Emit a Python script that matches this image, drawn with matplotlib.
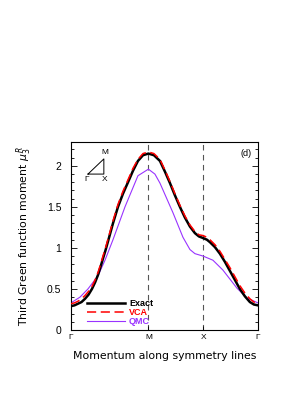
import numpy as np
import matplotlib
matplotlib.use("Agg")
import matplotlib.pyplot as plt
from matplotlib.ticker import MultipleLocator

# Path coordinate: Gamma=0, M=sqrt(2), X=sqrt(2)+1, Gamma=sqrt(2)+2
sym_pos = [0.0, 1.414, 2.414, 3.414]
sym_labels = ["Γ", "M", "X", "Γ"]

k_exact = [0.0, 0.064, 0.128, 0.192, 0.256, 0.320, 0.383, 0.440, 0.493, 0.540, 0.584,
           0.630, 0.676, 0.767, 0.858, 0.949,
           1.041, 1.132, 1.223, 1.315, 1.414, 1.515, 1.625, 1.716, 1.808, 1.899,
           1.990, 2.081, 2.173, 2.264, 2.337, 2.414, 2.483, 2.538, 2.629, 2.720,
           2.812, 2.903, 2.994, 3.085, 3.177, 3.268, 3.341, 3.414]
exact = [0.29, 0.30, 0.32, 0.34, 0.38, 0.43, 0.50, 0.58, 0.67, 0.77, 0.87,
         0.97, 1.08, 1.30, 1.50, 1.66,
         1.80, 1.94, 2.06, 2.13, 2.15, 2.13, 2.06, 1.93, 1.79, 1.64,
         1.50, 1.37, 1.26, 1.18, 1.14, 1.12, 1.10, 1.07, 1.01, 0.93,
         0.83, 0.72, 0.61, 0.50, 0.41, 0.34, 0.31, 0.30]
vca = [0.32, 0.33, 0.35, 0.38, 0.42, 0.47, 0.53, 0.61, 0.70, 0.80, 0.90,
       1.00, 1.11, 1.33, 1.53, 1.69,
       1.83, 1.97, 2.08, 2.15, 2.17, 2.15, 2.08, 1.95, 1.81, 1.66,
       1.52, 1.39, 1.28, 1.20, 1.16, 1.15, 1.13, 1.10, 1.04, 0.96,
       0.86, 0.76, 0.65, 0.54, 0.45, 0.38, 0.34, 0.32]

k_qmc = [0.0, 0.164, 0.310, 0.493, 0.621, 0.767, 0.986, 1.223, 1.414, 1.533,
         1.625, 1.862, 2.045, 2.173, 2.264, 2.414, 2.593, 2.775, 3.031, 3.213, 3.414]
qmc = [0.33, 0.40, 0.50, 0.66, 0.85, 1.10, 1.50, 1.88, 1.96, 1.90,
       1.79, 1.43, 1.13, 0.98, 0.93, 0.90, 0.85, 0.73, 0.51, 0.39, 0.33]

plt.rcParams['font.family'] = ['Liberation Sans', 'DejaVu Sans']

fig = plt.figure(figsize=(2.81, 3.98), dpi=100)
ax = fig.add_axes([0.2527, 0.171, 0.665, 0.472])

for p in sym_pos[1:3]:
    ax.axvline(p, color="#555555", lw=0.8, ls=(0, (5, 4)), zorder=1)

ax.plot(k_exact, exact, color="black", lw=1.8, label="Exact", zorder=3)
ax.plot(k_exact, vca, color="red", lw=1.1, ls=(0, (6, 3)), label="VCA", zorder=4)
ax.plot(k_qmc, qmc, color="#9933ff", lw=0.8, label="QMC", zorder=2)

ax.set_xlim(0, 3.414)
ax.set_ylim(0, 2.29)
ax.set_xticks(sym_pos)
ax.set_xticklabels(sym_labels, fontsize=6)
ax.yaxis.set_minor_locator(MultipleLocator(0.1))
ax.set_yticks([0, 0.5, 1, 1.5, 2])
ax.set_yticklabels(["0", "0.5", "1", "1.5", "2"], fontsize=7.5)
ax.tick_params(axis="y", which="both", direction="in", left=True, right=True, pad=7)
ax.tick_params(axis="y", which="major", length=4, width=0.6)
ax.tick_params(axis="y", which="minor", length=2, width=0.6)
ax.tick_params(axis="x", direction="in", length=3, width=0.6, pad=3)
for s in ax.spines.values():
    s.set_linewidth(0.8)

ax.set_xlabel("Momentum along symmetry lines", fontsize=7.8, labelpad=7,
              family="DejaVu Sans")
ax.set_ylabel(r"Third Green function moment $\mu_3^{\,R}$", fontsize=7.8, labelpad=9,
              family="DejaVu Sans")

leg = ax.legend(loc="lower left", bbox_to_anchor=(0.05, -0.015), frameon=False,
                prop={"size": 6.5, "weight": "bold"}, handlelength=4.2,
                handletextpad=0.5, labelspacing=0.0, borderaxespad=0.3)
for txt, c in zip(leg.get_texts(), ["black", "red", "#9933ff"]):
    txt.set_color(c)

# inset triangle
ax.plot([0.31, 0.60, 0.60, 0.31], [1.90, 1.90, 2.085, 1.90], color="black", lw=0.7,
        zorder=5)
ax.text(0.29, 1.875, "Γ", fontsize=6, ha="center", va="top")
ax.text(0.61, 1.875, "X", fontsize=6, ha="center", va="top")
ax.text(0.61, 2.12, "M", fontsize=6, ha="center", va="bottom")
ax.text(0.936, 0.94, "(d)", fontsize=6.5, ha="center", va="center", transform=ax.transAxes)

fig.savefig("out.png", dpi=100)
